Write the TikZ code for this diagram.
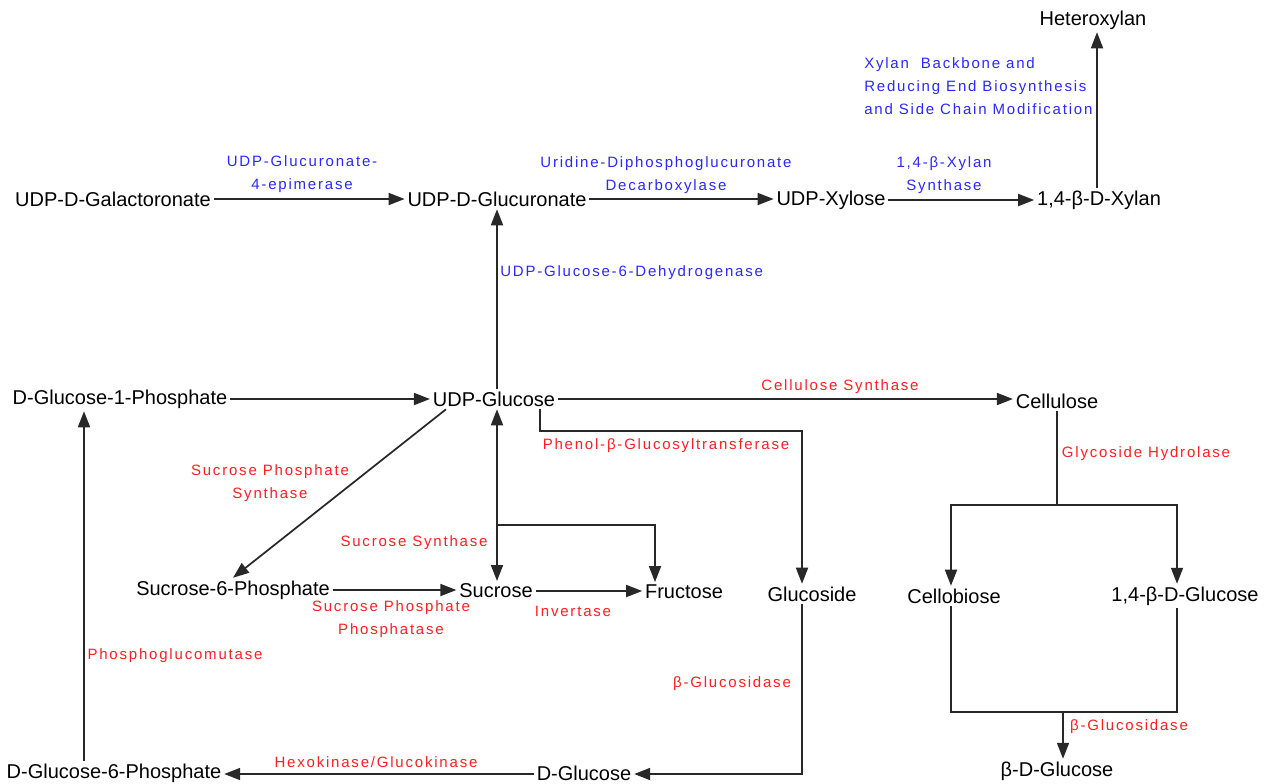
\documentclass[tikz,border=0pt]{standalone}
\usepackage{fontspec}
\setmainfont{Liberation Sans}
\newfontfamily\lblfont[LetterSpace=12]{Liberation Sans}
\usetikzlibrary{arrows.meta,calc}
\definecolor{lblue}{RGB}{40,40,255}
\definecolor{lred}{RGB}{255,30,30}
\definecolor{ln}{RGB}{40,40,40}
\tikzset{
  nd/.style={font=\fontsize{15}{18}\selectfont, inner sep=2pt},
  lbl/.style={font=\lblfont\fontsize{11.25}{17.25}\selectfont, inner sep=0pt, align=center},
  bl/.style={lbl, text=lblue},
  rd/.style={lbl, text=lred},
  conn/.style={draw=ln, line width=1.3pt},
  arr/.style={conn, -{Triangle[length=12pt,width=9pt]}},
  darr/.style={conn, {Triangle[length=12pt,width=9pt]}-{Triangle[length=12pt,width=9pt]}}
}
\begin{document}
\begin{tikzpicture}[x=0.75pt,y=-0.75pt]
\useasboundingbox (0,0) rectangle (1270,783);
% nodes
\node[nd] (gal) at (113,199) {UDP-D-Galactoronate};
\node[nd] (glr) at (497,199) {UDP-D-Glucuronate};
\node[nd] (xyl) at (831,200) {UDP-Xylose};
\node[nd] (xln) at (1099,200) {1,4-β-D-Xylan};
\node[nd] (het) at (1093,20) {Heteroxylan};
\node[nd] (g1p) at (120,399) {D-Glucose-1-Phosphate};
\node[nd] (ug) at (494,399) {UDP-Glucose};
\node[nd] (cel) at (1057,401) {Cellulose};
\node[nd] (s6p) at (233,590) {Sucrose-6-Phosphate};
\node[nd] (suc) at (496,591) {Sucrose};
\node[nd] (fru) at (684,592) {Fructose};
\node[nd] (glc) at (812,594) {Glucoside};
\node[nd] (cb) at (954,596) {Cellobiose};
\node[nd] (bdg) at (1185,596) {1,4-β-D-Glucose};
\node[nd] (d6p) at (114,773) {D-Glucose-6-Phosphate};
\node[nd] (dgl) at (584,773) {D-Glucose};
\node[nd] (bg) at (1057,771) {β-D-Glucose};
% labels
\node[bl] (l1) at (302,174) {UDP-Glucuronate-\\4-epimerase};
\node[bl] (l2) at (666,175) {Uridine-Diphosphoglucuronate\\Decarboxylase};
\node[bl] (l3) at (944,175) {1,4-β-Xylan\\Synthase};
\node[bl,anchor=west,align=left] (l4) at (864,86) {Xylan\ \ Backbone and\\Reducing End Biosynthesis\\and Side Chain Modification};
\node[bl,anchor=west] (l5) at (500,273) {UDP-Glucose-6-Dehydrogenase};
\node[rd] (l6) at (840,387) {Cellulose Synthase};
\node[rd] (l7) at (666,446) {Phenol-β-Glucosyltransferase};
\node[rd] (l8) at (270,483) {Sucrose Phosphate\\Synthase};
\node[rd] (l9) at (414,543) {Sucrose Synthase};
\node[rd] (l10) at (391,619) {Sucrose Phosphate\\Phosphatase};
\node[rd] (l11) at (573,611) {Invertase};
\node[rd] (l12) at (1146,454) {Glycoside Hydrolase};
\node[rd] (l13) at (175,656) {Phosphoglucomutase};
\node[rd] (l14) at (732,684) {β-Glucosidase};
\node[rd] (l15) at (376,762) {Hexokinase/Glucokinase};
\node[rd] (l16) at (1129,727) {β-Glucosidase};
% coordinates
\coordinate (br) at (497,525);
\coordinate (split) at (1057,505);
\coordinate (join) at (1063,712);
\coordinate (xa) at ($(xln.north)+(-2,0)$);
\coordinate (pa) at ($(d6p.north)+(-30,0)$);
% connectors
\draw[arr] (gal.east) -- (glr.west);
\draw[arr] (glr.east) -- (glr.east -| xyl.west);
\draw[arr] (xyl.east) -- (xln.west);
\draw[arr] (xa) -- (xa |- het.south);
\draw[arr] (ug.north -| glr) -- (glr.south);
\draw[arr] (g1p.east) -- (ug.west);
\draw[arr] (ug.east) -- (ug.east -| cel.west);
\draw[arr] ($(ug.south)+(46,0)$) -- ++(0,22) -| ($(glc.north)+(-10,0)$);
\draw[arr] ($(ug.south)+(-48,0)$) -- (s6p.north);
\draw[darr] ($(ug.south -| suc.north)+(1,0)$) -- ($(suc.north)+(1,0)$);
\draw[arr] (br) -| ($(fru.north)+(-29,0)$);
\draw[arr] (s6p.east) -- (s6p.east -| suc.west);
\draw[arr] (suc.east) -- (suc.east -| fru.west);
\draw[arr] ($(glc.south)+(-10,0)$) |- ($(dgl.east)+(0,1)$);
\draw[arr] ($(dgl.west)+(0,1)$) -- ($(d6p.east)+(0,1)$);
\draw[arr] (pa) -- (pa |- g1p.south);
\draw[conn] (cel.south) -- (split);
\draw[arr] (split) -| ($(cb.north)+(-3,0)$);
\draw[arr] (split) -| ($(bdg.north)+(-8,0)$);
\draw[conn] ($(cb.south)+(-3,0)$) |- (join);
\draw[conn] ($(bdg.south)+(-8,0)$) |- (join);
\draw[arr] (join) -- (join |- bg.north);
\end{tikzpicture}
\end{document}
